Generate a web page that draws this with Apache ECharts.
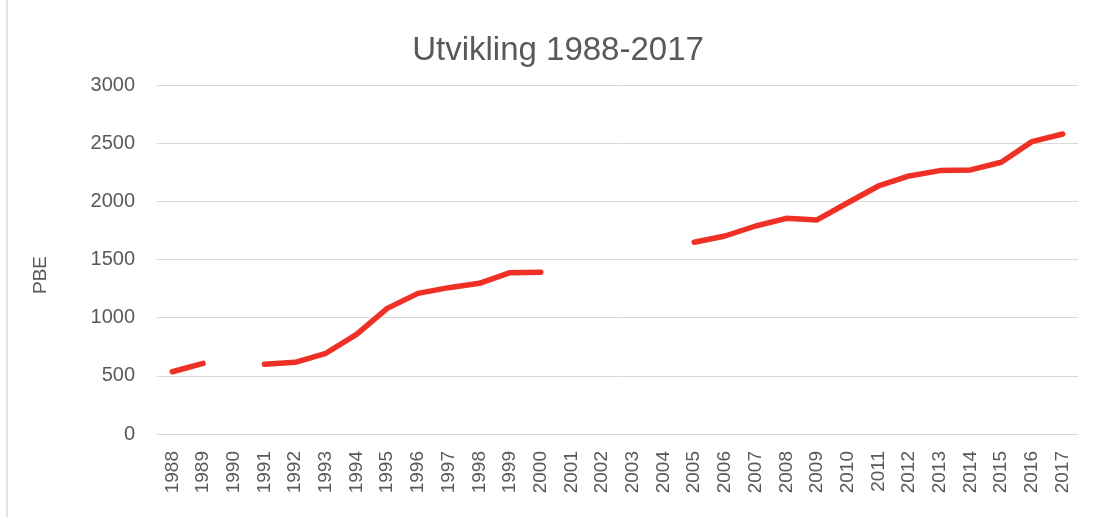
<!DOCTYPE html>
<html>
<head>
<meta charset="utf-8">
<script src="https://cdn.jsdelivr.net/npm/echarts@6/dist/echarts.min.js"></script>
<style>
html,body{margin:0;padding:0;background:#fff;}
#chart{width:1096px;height:517px;}
</style>
</head>
<body>
<div id="chart"></div>
<script>
const years = ['1988','1989','1990','1991','1992','1993','1994','1995','1996','1997','1998','1999','2000','2001','2002','2003','2004','2005','2006','2007','2008','2009','2010','2011','2012','2013','2014','2015','2016','2017'];
const pbe = [535, 607, null, 599, 616, 694, 857, 1080, 1209, 1258, 1295, 1387, 1390, null, null, null, null, 1648, 1702, 1788, 1854, 1840, 1988, 2132, 2218, 2264, 2270, 2336, 2513, 2579];
const yTicks = {min: 0, max: 3000, interval: 500};
const titleText = 'Utvikling 1988-2017';
const yName = 'PBE';

const font = 'Liberation Sans';
const chart = echarts.init(document.getElementById('chart'));
chart.setOption({
  backgroundColor: '#fff',
  animation: false,
  graphic: [{
    type: 'rect',
    shape: {x: 7, y: -2, width: 1092, height: 520},
    style: {fill: 'none', stroke: '#d9d9d9', lineWidth: 1.5},
    silent: true
  }, {
    type: 'text',
    x: 558, y: 51,
    style: {text: titleText, fontFamily: font, fontSize: 33, fill: '#595959', textAlign: 'center', textVerticalAlign: 'middle'},
    silent: true
  }, {
    type: 'text',
    x: 41, y: 275,
    rotation: Math.PI / 2,
    style: {text: yName, fontFamily: font, fontSize: 19, fill: '#595959', textAlign: 'center', textVerticalAlign: 'middle'},
    silent: true
  }],
  grid: {left: 157, right: 18, top: 85, bottom: 83},
  xAxis: {
    type: 'category',
    data: years,
    boundaryGap: true,
    axisLine: {lineStyle: {color: '#d9d9d9', width: 1}},
    axisTick: {show: false},
    axisLabel: {interval: 0, rotate: 90, margin: 17, color: '#595959', fontFamily: font, fontSize: 19}
  },
  yAxis: {
    type: 'value',
    min: yTicks.min, max: yTicks.max, interval: yTicks.interval,
    axisLine: {show: false},
    axisTick: {show: false},
    axisLabel: {margin: 22, color: '#595959', fontFamily: font, fontSize: 20, formatter: v => String(v)},
    splitLine: {lineStyle: {color: '#d9d9d9', width: 1}}
  },
  series: [{
    type: 'line',
    data: pbe,
    connectNulls: false,
    showSymbol: false,
    symbol: 'none',
    lineStyle: {color: '#EE3124', width: 5.5, cap: 'round', join: 'round'},
    itemStyle: {color: '#EE3124'}
  }]
});
</script>
</body>
</html>
